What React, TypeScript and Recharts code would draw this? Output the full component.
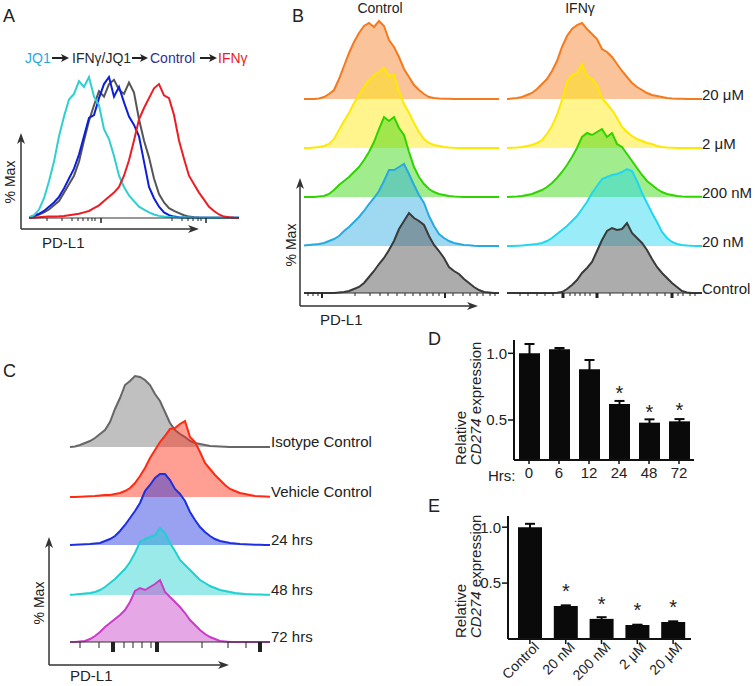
import React from 'react';
import { AreaChart, Area, LineChart, Line, BarChart, Bar, XAxis, YAxis, ErrorBar, LabelList } from 'recharts';

const FONT = '"Liberation Sans", Arial, Helvetica, sans-serif';
const INK = '#222';

// ---------- Panel A: overlaid PD-L1 histograms, % of max ----------
const binsA = [0, 5, 10, 15, 20, 25, 30, 35, 40, 45, 50, 55, 60, 65, 70, 75, 80, 85, 90, 95, 100, 105, 110, 115, 120, 125, 130, 135, 140, 145, 150, 155, 160, 165, 170, 175, 180, 185, 190, 195, 200, 205, 210];
const aJQ1 = [0.5, 2, 6, 14, 26, 40, 58, 72, 84, 88, 97, 93, 100, 86, 80, 63, 56, 44, 30, 22, 16, 12, 8, 6, 4, 2.5, 1.5, 1, 0.7, 0.5, 0.4, 0.3, 0.3, 0.2, 0.2, 0.2, 0.1, 0.1, 0.1, 0.1, 0.1, 0.1, 0.1];
const aControl = [0.5, 1.5, 3, 5, 8, 11, 15, 21, 28, 35, 45, 58, 71, 73, 85, 95, 100, 86, 93, 82, 72, 66, 58, 40, 22, 14, 8, 4, 2, 1, 0.5, 0.3, 0.2, 0.1, 0.1, 0.1, 0.1, 0.1, 0.1, 0.1, 0.1, 0.1, 0.1];
const aCombo = [0.3, 1, 2.5, 4, 6, 9, 12, 18, 24, 30, 40, 55, 69, 80, 90, 86, 95, 98, 91, 88, 96, 89, 70, 55, 43, 28, 17, 11, 7, 5, 3.5, 2, 1, 0.6, 0.3, 0.2, 0.1, 0.1, 0.1, 0.1, 0.1, 0.1, 0.1];
const aIFNg = [0, 0.2, 0.5, 0.8, 1, 1, 1.2, 1.5, 2, 2.5, 3, 4, 5, 7, 9, 12, 15, 18, 22, 30, 41, 55, 70, 78, 85, 92, 95, 87, 85, 73, 55, 42, 30, 24, 18, 13, 8, 5, 2.5, 1, 0.5, 0.2, 0];
const aTicks = [18, 33, 43, 49, 54, 59, 63, 66, 72, 143, 153, 159, 164, 169, 172, 177];
const aMajor = [72, 177];
const legendA = [
  { label: 'JQ1', color: '#29a9e0', x: 25 },
  { label: 'IFNγ/JQ1', color: '#2a2a2a', x: 72 },
  { label: 'Control', color: '#2e3192', x: 150 },
  { label: 'IFNγ', color: '#ed1c24', x: 218 },
];

// ---------- Panel B: JQ1 dose ridges, Control vs IFNγ ----------
const binsB = [0, 5, 10, 15, 20, 25, 30, 35, 40, 45, 50, 55, 60, 65, 70, 75, 80, 85, 90, 95, 100, 105, 110, 115, 120, 125, 130, 135, 140, 145, 150, 155, 160, 165, 170, 175, 180, 185, 190, 195];
const doseRows = ['20 μM', '2 μM', '200 nM', '20 nM', 'Control'];
const bCtl20uM = [0, 0, 0, 0.5, 2, 5, 9, 20, 33, 46, 57, 66, 73, 76, 72, 78, 73, 59, 52, 42, 30, 22, 14, 9, 5, 2, 1, 0.5, 0.3, 0.2, 0.1, 0.1, 0.1, 0.1, 0.1, 0.1, 0.1, 0.1, 0.1, 0.1];
const bCtl2uM = [0, 0, 0.5, 1, 2, 4, 9, 18, 27, 35, 45, 53, 61, 68, 73, 76, 80, 72, 73, 57, 44, 35, 25, 16, 9, 5, 3, 2, 1, 0.5, 0.2, 0.1, 0.1, 0.1, 0.1, 0.1, 0.1, 0.1, 0.1, 0.1];
const bCtl200nM = [0, 0, 0, 0.5, 1, 3, 7, 12, 16, 20, 25, 30, 37, 45, 55, 68, 80, 76, 80, 69, 62, 45, 30, 20, 13, 8, 5, 3, 2, 1, 0.5, 0.2, 0.1, 0.1, 0.1, 0.1, 0.1, 0.1, 0.1, 0.1];
const bCtl20nM = [0.5, 1, 1.5, 2, 3, 5, 7, 10, 15, 19, 24, 29, 35, 42, 48, 55, 65, 76, 76, 79, 82, 72, 61, 51, 43, 30, 20, 12, 8, 5, 3, 2, 1, 0.8, 0.3, 0.1, 0.1, 0.1, 0.1, 0.1];
const bCtlBase = [0, 0, 0, 0, 0, 0, 0, 0.5, 1, 2, 4, 6, 10, 16, 22, 29, 35, 43, 52, 64, 72, 80, 75, 72, 68, 57, 48, 42, 35, 26, 22, 19, 14, 10, 6, 3, 1, 0.5, 0, 0];
const bIfn20uM = [0, 0.5, 1, 2, 4, 6, 10, 15, 20, 28, 38, 52, 63, 70, 74, 76, 70, 65, 60, 50, 47, 42, 35, 28, 22, 16, 12, 9, 6, 4, 3, 2, 1, 0.5, 0.3, 0.2, 0.1, 0.1, 0.1, 0.1];
const bIfn2uM = [0, 0.3, 0.5, 1, 2, 3, 5, 8, 14, 22, 33, 48, 66, 73, 75, 84, 72, 69, 63, 50, 44, 38, 30, 21, 16, 12, 9, 7, 5, 4, 2, 1, 0.5, 0.3, 0.1, 0.1, 0.1, 0.1, 0.1, 0.1];
const bIfn200nM = [0, 0.3, 0.5, 1, 2, 3, 5, 7, 10, 14, 19, 25, 32, 40, 49, 60, 64, 62, 65, 68, 60, 64, 53, 50, 43, 36, 29, 22, 16, 12, 8, 5, 3, 2, 1, 0.5, 0.2, 0.2, 0.2, 0.2];
const bIfn20nM = [0, 0, 0.3, 0.5, 1, 1.5, 2, 3, 5, 8, 12, 16, 20, 25, 30, 37, 44, 53, 60, 67, 69, 71, 72, 74, 77, 75, 65, 53, 43, 33, 24, 14, 8, 4, 2, 1, 0.5, 0.2, 0.1, 0.1];
const bIfnBase = [0, 0, 0, 0, 0, 0, 0, 0, 0, 0, 0.3, 1, 4, 8, 13, 20, 25, 31, 42, 53, 62, 65, 63, 64, 70, 60, 55, 50, 43, 34, 26, 20, 15, 10, 6, 2, 0.5, 0, 0, 0];
const bTicksL = [4, 9, 14, 18, 51, 66, 76, 84, 93, 101, 109, 116, 123, 129, 135, 141, 149, 159, 166, 173, 179, 186, 191];
const bMajorL = [18, 141];
const bTicksR = [13, 21, 30, 38, 46, 56, 63, 68, 73, 78, 83, 90, 103, 116, 125, 133, 141, 150, 158, 165, 171, 176, 183, 188];
const bMajorR = [56, 90, 165];

// ---------- Panel C: time course ridges ----------
const binsC = [0, 5, 10, 15, 20, 25, 30, 35, 40, 45, 50, 55, 60, 65, 70, 75, 80, 85, 90, 95, 100, 105, 110, 115, 120, 125, 130, 135, 140, 145, 150, 155, 160, 165, 170, 175, 180, 185, 190, 195, 200];
const timeRows = ['Isotype Control', 'Vehicle Control', '24 hrs', '48 hrs', '72 hrs'];
const cIsotype = [0, 0.5, 2, 4, 6, 9, 13, 17, 25, 38, 49, 62, 66, 71, 70, 67, 62, 53, 46, 35, 24, 17, 13, 10, 6, 4, 3, 2, 1, 0.8, 0.5, 0.3, 0.1, 0.1, 0.1, 0.1, 0.1, 0.1, 0.1, 0.1, 0.1];
const cVehicle = [0, 0, 0.3, 0.5, 0.8, 1, 1.5, 2, 2, 3, 4, 6, 9, 14, 21, 29, 39, 47, 55, 61, 68, 69, 73, 76, 60, 55, 45, 34, 28, 22, 17, 12, 8, 6, 4, 3, 2, 1, 0.7, 0.5, 0.3];
const c24h = [0, 0.3, 0.5, 0.8, 1, 1.5, 2, 4, 6, 9, 14, 20, 27, 34, 42, 54, 60, 67, 71, 71, 65, 56, 51, 44, 33, 25, 18, 13, 9, 6, 4, 3, 2, 1.5, 1, 0.7, 0.5, 0.3, 0.2, 0.1, 0.1];
const c48h = [0.3, 0.5, 1, 1.5, 2, 3, 5, 8, 12, 16, 21, 26, 33, 42, 53, 56, 58, 60, 67, 62, 52, 44, 35, 30, 25, 20, 15, 12, 9, 7, 5, 4, 3, 2, 1.5, 1, 0.8, 0.6, 0.5, 0.3, 0.2];
const c72h = [0, 0, 0.5, 1, 3, 6, 10, 15, 19, 23, 27, 32, 40, 51, 54, 52, 55, 58, 62, 50, 45, 40, 35, 29, 22, 17, 12, 8, 5, 3, 1, 0.5, 0, 0, 0, 0, 0, 0, 0, 0, 0];
const cTicks = [10, 29, 43, 54, 63, 72, 81, 87, 132, 158, 176, 190];
const cMajor = [43, 87, 190];

// ---------- Panel D: CD274 mRNA over time ----------
const hrsCats = ['0', '6', '12', '24', '48', '72'];
const hrsMean = [1.0, 1.03, 0.88, 0.62, 0.48, 0.49];
const hrsErr = [0.07, 0.01, 0.07, 0.023, 0.025, 0.017];
const hrsMark = ['', '', '', '*', '*', '*'];

// ---------- Panel E: CD274 mRNA by dose ----------
const doseCats = ['Control', '20 nM', '200 nM', '2 μM', '20 μM'];
const doseMean = [1.0, 0.295, 0.18, 0.125, 0.152];
const doseErr = [0.03, 0.006, 0.015, 0.003, 0.006];
const doseMark = ['', '*', '*', '*', '*'];

// layout
const bBase = [99, 148, 197, 246, 293];
const cBase = [447, 497, 545, 595, 642];
const bStrokeL = ['#f47a20', '#ffe800', '#2fd400', '#27aae1', '#3a3a3a'];
const bStrokeR = ['#f47a20', '#ffe800', '#2fd400', '#1fd8ef', '#3a3a3a'];
const cStroke = ['#666666', '#ff2a12', '#1d2fe0', '#1fd0d0', '#c83cc8'];

const makeTick = (majors: number[], minorLen: number, majorLen: number, majorW: number) => (p: any) => {
  const major = majors.includes(p.payload.value);
  return (
    <line x1={p.x} x2={p.x} y1={p.y} y2={p.y + (major ? majorLen : minorLen)}
      stroke="#222" strokeWidth={major ? majorW : 1} />
  );
};

function Ridge({ bins, values, stroke, fill, fillOpacity, left, baseline, width, maxX, ticks, tick }: any) {
  const data = bins.map((b: number, i: number) => ({ b, v: values[i] }));
  const plotH = 90;
  const padTop = 4;
  const axisH = ticks ? 14 : 2;
  return (
    <div style={{ position: 'absolute', left, top: baseline - plotH - padTop }}>
      <AreaChart width={width} height={padTop + plotH + axisH} data={data}
        margin={{ top: padTop, right: 0, bottom: ticks ? 0 : 2, left: 0 }}>
        <XAxis dataKey="b" type="number" domain={[0, maxX]} hide={!ticks} ticks={ticks} interval={0}
          height={14} tickSize={0} tickMargin={0} tickLine={false} tick={tick}
          axisLine={{ stroke: '#333', strokeWidth: 1.2 }} />
        <YAxis hide type="number" domain={[0, plotH]} />
        <Area type="linear" dataKey="v" stroke={stroke} strokeWidth={2} fill={fill}
          fillOpacity={fillOpacity} isAnimationActive={false} />
      </AreaChart>
    </div>
  );
}

const renderStar = (lift: number) => (p: any) => {
  if (!p.value) return null;
  return (
    <text x={p.x + p.width / 2} y={p.y - lift} textAnchor="middle" fontSize={20}
      fontFamily={FONT} fill={INK}>{p.value}</text>
  );
};

const RotTick = (p: any) => {
  const x = p.x + 10;
  const y = p.y + 4;
  return (
    <text x={x} y={y} transform={`rotate(-45, ${x}, ${y})`} textAnchor="end" fontSize={14}
      fontFamily={FONT} fill={INK}>{p.payload.value}</text>
  );
};

const Axes = ({ x0, y0, xTip, yTip }: any) => (
  <g>
    <line x1={x0} y1={y0} x2={x0} y2={yTip + 8} stroke="#333" strokeWidth={1.5} />
    <polygon points={`${x0},${yTip} ${x0 - 4},${yTip + 11} ${x0},${yTip + 8} ${x0 + 4},${yTip + 11}`} fill="#333" />
    <line x1={x0} y1={y0} x2={xTip - 8} y2={y0} stroke="#333" strokeWidth={1.5} />
    <polygon points={`${xTip},${y0} ${xTip - 11},${y0 - 4} ${xTip - 8},${y0} ${xTip - 11},${y0 + 4}`} fill="#333" />
  </g>
);

const LegendArrow = ({ x1, x2, y }: any) => (
  <g>
    <line x1={x1} y1={y} x2={x2 - 5} y2={y} stroke="#222" strokeWidth={2} />
    <polygon points={`${x2},${y} ${x2 - 8},${y - 4} ${x2 - 6},${y} ${x2 - 8},${y + 4}`} fill="#222" />
  </g>
);

export default function App() {
  const dataA = binsA.map((b, i) => ({ b, jq1: aJQ1[i], ctrl: aControl[i], combo: aCombo[i], ifng: aIFNg[i] }));
  const ctlCol = [bCtl20uM, bCtl2uM, bCtl200nM, bCtl20nM, bCtlBase];
  const ifnCol = [bIfn20uM, bIfn2uM, bIfn200nM, bIfn20nM, bIfnBase];
  const cCol = [cIsotype, cVehicle, c24h, c48h, c72h];
  const hrsData = hrsCats.map((c, i) => ({ c, m: hrsMean[i], e: hrsErr[i], s: hrsMark[i] }));
  const doseData = doseCats.map((c, i) => ({ c, m: doseMean[i], e: doseErr[i], s: doseMark[i] }));
  const txt = { fontFamily: FONT, fill: INK };

  return (
    <div style={{ position: 'absolute', left: 0, top: 0, width: 755, height: 686, background: '#fff', overflow: 'hidden' }}>
      {/* A */}
      <div style={{ position: 'absolute', left: 29, top: 73 }}>
        <LineChart width={210} height={153} data={dataA} margin={{ top: 4, right: 0, bottom: 0, left: 0 }}>
          <XAxis dataKey="b" type="number" domain={[0, 210]} ticks={aTicks} interval={0} height={8}
            tickSize={0} tickMargin={0} tickLine={false} tick={makeTick(aMajor, 3, 5, 1.5)}
            axisLine={{ stroke: '#333', strokeWidth: 1.2 }} />
          <YAxis hide type="number" domain={[0, 100]} />
          <Line type="linear" dataKey="combo" stroke="#555555" strokeWidth={2} dot={false} isAnimationActive={false} />
          <Line type="linear" dataKey="ctrl" stroke="#0a1edc" strokeWidth={2} dot={false} isAnimationActive={false} />
          <Line type="linear" dataKey="jq1" stroke="#2ecfd2" strokeWidth={2} dot={false} isAnimationActive={false} />
          <Line type="linear" dataKey="ifng" stroke="#ee1c24" strokeWidth={2} dot={false} isAnimationActive={false} />
        </LineChart>
      </div>

      {/* B */}
      {ctlCol.map((vals, i) => (
        <Ridge key={`bl${i}`} bins={binsB} values={vals} stroke={bStrokeL[i]}
          fill={i === 4 ? '#5a5a5a' : bStrokeL[i]} fillOpacity={i === 4 ? 0.5 : 0.45}
          left={304} baseline={bBase[i]} width={195} maxX={195}
          ticks={i === 4 ? bTicksL : undefined} tick={makeTick(bMajorL, 3, 5, 2)} />
      ))}
      {ifnCol.map((vals, i) => (
        <Ridge key={`br${i}`} bins={binsB} values={vals} stroke={bStrokeR[i]}
          fill={i === 4 ? '#5a5a5a' : bStrokeR[i]} fillOpacity={i === 4 ? 0.5 : 0.45}
          left={507} baseline={bBase[i]} width={195} maxX={195}
          ticks={i === 4 ? bTicksR : undefined} tick={makeTick(bMajorR, 3, 5, 3)} />
      ))}

      {/* C */}
      {cCol.map((vals, i) => (
        <Ridge key={`c${i}`} bins={binsC} values={vals} stroke={cStroke[i]}
          fill={i === 0 ? '#8c8c8c' : cStroke[i]} fillOpacity={i === 0 ? 0.55 : 0.45}
          left={70} baseline={cBase[i]} width={200} maxX={200}
          ticks={i === 4 ? cTicks : undefined} tick={makeTick(cMajor, 6, 10, 4)} />
      ))}

      {/* D */}
      <div style={{ position: 'absolute', left: 454, top: 320 }}>
        <BarChart width={252} height={170} data={hrsData} margin={{ top: 20, right: 12, bottom: 0, left: 0 }}>
          <XAxis dataKey="c" height={30} interval={0} tickSize={4} tickMargin={3}
            axisLine={{ stroke: '#111', strokeWidth: 2 }} tickLine={{ stroke: '#111', strokeWidth: 1.5 }}
            tick={{ fontSize: 15, fill: INK, fontFamily: FONT }} />
          <YAxis width={60} type="number" domain={[0.2, 1.1]} ticks={[0.5, 1.0]} allowDataOverflow
            tickFormatter={(v: number) => v.toFixed(1)} tickSize={6} tickMargin={1}
            axisLine={{ stroke: '#111', strokeWidth: 2 }} tickLine={{ stroke: '#111', strokeWidth: 1.5 }}
            tick={{ fontSize: 15, fill: INK, fontFamily: FONT }} />
          <Bar dataKey="m" fill="#0a0a0a" barSize={21} isAnimationActive={false}>
            <ErrorBar dataKey="e" width={5} strokeWidth={2} stroke="#0a0a0a" direction="y" />
            <LabelList dataKey="s" content={renderStar(4)} />
          </Bar>
        </BarChart>
      </div>

      {/* E */}
      <div style={{ position: 'absolute', left: 448, top: 496 }}>
        <BarChart width={255} height={190} data={doseData} margin={{ top: 20, right: 12, bottom: 0, left: 0 }}>
          <XAxis dataKey="c" height={47} interval={0} tickSize={5} tickMargin={0} padding={{ left: 4, right: 0 }}
            axisLine={{ stroke: '#111', strokeWidth: 2 }} tickLine={{ stroke: '#111', strokeWidth: 1.5 }}
            tick={RotTick} />
          <YAxis width={60} type="number" domain={[0, 1.1]} ticks={[0.5, 1.0]} allowDataOverflow
            tickFormatter={(v: number) => v.toFixed(1)} tickSize={6} tickMargin={1}
            axisLine={{ stroke: '#111', strokeWidth: 2 }} tickLine={{ stroke: '#111', strokeWidth: 1.5 }}
            tick={{ fontSize: 15, fill: INK, fontFamily: FONT }} />
          <Bar dataKey="m" fill="#0a0a0a" barSize={24} isAnimationActive={false}>
            <ErrorBar dataKey="e" width={5} strokeWidth={2} stroke="#0a0a0a" direction="y" />
            <LabelList dataKey="s" content={renderStar(8)} />
          </Bar>
        </BarChart>
      </div>

      {/* text & arrows */}
      <svg width={755} height={686} style={{ position: 'absolute', left: 0, top: 0, pointerEvents: 'none' }}>
        <text x={3} y={22} fontSize={18} {...txt}>A</text>
        <text x={292} y={22} fontSize={18} {...txt}>B</text>
        <text x={3} y={377} fontSize={18} {...txt}>C</text>
        <text x={428} y={345} fontSize={18} {...txt}>D</text>
        <text x={428} y={512} fontSize={18} {...txt}>E</text>

        {legendA.map((l) => (
          <text key={l.label} x={l.x} y={63} fontSize={14} fontFamily={FONT} fill={l.color}>{l.label}</text>
        ))}
        <LegendArrow x1={52} x2={69} y={58} />
        <LegendArrow x1={132} x2={148} y={58} />
        <LegendArrow x1={200} x2={217} y={58} />

        <Axes x0={21} y0={229} xTip={199} yTip={133} />
        <text x={15} y={182} transform="rotate(-90 15 182)" textAnchor="middle" fontSize={14} {...txt}>% Max</text>
        <text x={42} y={248} fontSize={15} {...txt}>PD-L1</text>

        <text x={380} y={13} textAnchor="middle" fontSize={14} {...txt}>Control</text>
        <text x={580} y={13} textAnchor="middle" fontSize={14} {...txt}>IFNγ</text>
        {doseRows.map((r, i) => (
          <text key={r} x={702} y={bBase[i] + 1} fontSize={15} {...txt}>{r}</text>
        ))}
        <Axes x0={300} y0={306} xTip={478} yTip={178} />
        <text x={296} y={245} transform="rotate(-90 296 245)" textAnchor="middle" fontSize={14} {...txt}>% Max</text>
        <text x={320} y={325} fontSize={15} {...txt}>PD-L1</text>

        {timeRows.map((r, i) => (
          <text key={r} x={271} y={cBase[i]} fontSize={15} {...txt}>{r}</text>
        ))}
        <Axes x0={49} y0={665} xTip={229} yTip={537} />
        <text x={44} y={603} transform="rotate(-90 44 603)" textAnchor="middle" fontSize={14} {...txt}>% Max</text>
        <text x={70} y={681} fontSize={15} {...txt}>PD-L1</text>

        <text x={466} y={465} transform="rotate(-90 466 465)" fontSize={15} {...txt}>Relative</text>
        <text x={481} y={465} transform="rotate(-90 481 465)" fontSize={15} {...txt}>
          <tspan fontStyle="italic">CD274</tspan> expression
        </text>
        <text x={488} y={481} fontSize={15} {...txt}>Hrs:</text>

        <text x={466} y={638} transform="rotate(-90 466 638)" fontSize={15} {...txt}>Relative</text>
        <text x={481} y={638} transform="rotate(-90 481 638)" fontSize={15} {...txt}>
          <tspan fontStyle="italic">CD274</tspan> expression
        </text>
      </svg>
    </div>
  );
}
